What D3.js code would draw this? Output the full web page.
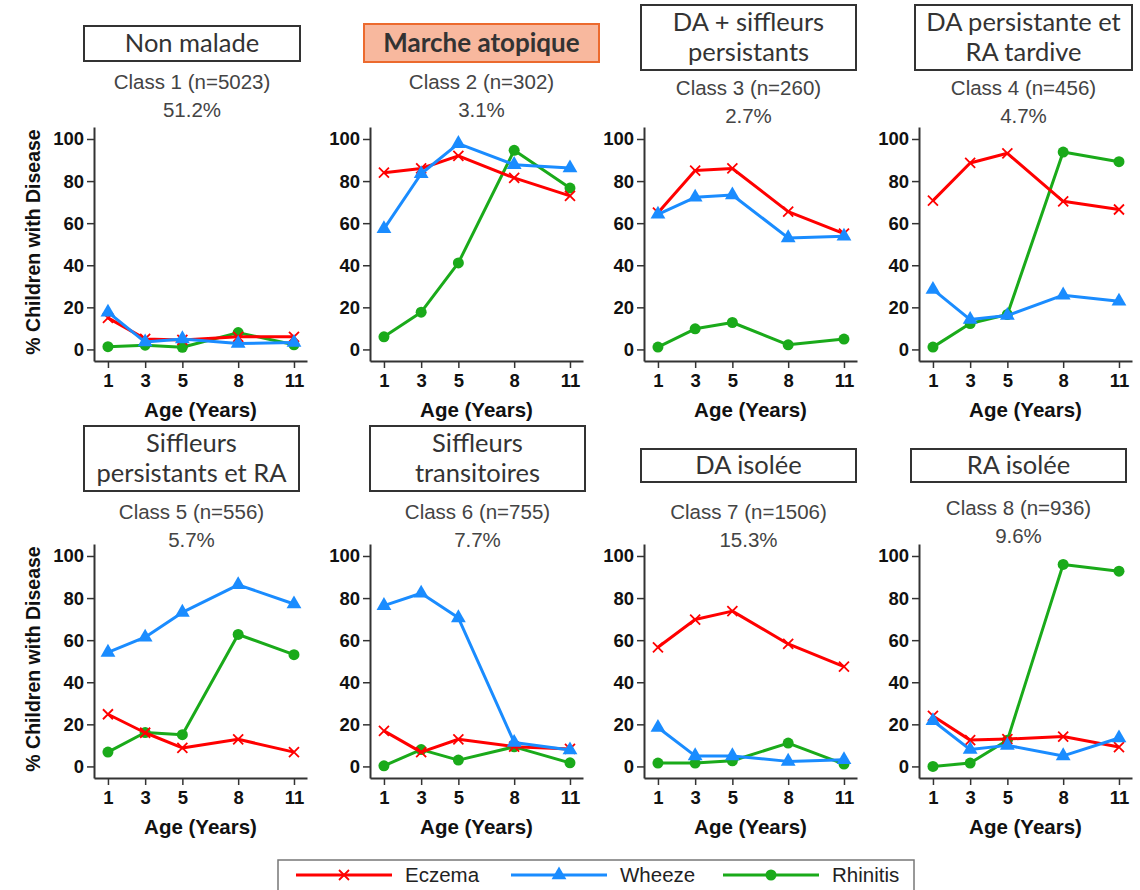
<!DOCTYPE html>
<html>
<head>
<meta charset="utf-8">
<script src="https://cdn.jsdelivr.net/npm/d3@7"></script>
<style>
  body { margin: 0; background: #fff; }
</style>
</head>
<body>
<div id="chart"></div>
<script>
// data
const ages = [1, 3, 5, 8, 11]
const yTicks = [0, 20, 40, 60, 80, 100]
const seriesNames = ['Eczema', 'Wheeze', 'Rhinitis']

const classTitles = [
  ['Non malade'],
  ['Marche atopique'],
  ['DA + siffleurs', 'persistants'],
  ['DA persistante et', 'RA tardive'],
  ['Siffleurs', 'persistants et RA'],
  ['Siffleurs', 'transitoires'],
  ['DA isolée'],
  ['RA isolée']
]
const classLabels = [
  'Class 1 (n=5023)', 'Class 2 (n=302)', 'Class 3 (n=260)', 'Class 4 (n=456)',
  'Class 5 (n=556)', 'Class 6 (n=755)', 'Class 7 (n=1506)', 'Class 8 (n=936)'
]
const classShares = ['51.2%', '3.1%', '2.7%', '4.7%', '5.7%', '7.7%', '15.3%', '9.6%']

// % children with disease, per class, at ages 1, 3, 5, 8, 11
const eczema = [
  [15, 5, 4.5, 6, 6],
  [84, 86, 92, 81.5, 73],
  [65, 85, 86, 65.5, 55],
  [70.7, 88.6, 93.2, 70.4, 66.5],
  [24.8, 16, 8.8, 12.9, 6.8],
  [16.9, 6.8, 12.9, 9.4, 8.3],
  [56.6, 69.8, 73.8, 58.2, 47.4],
  [24, 12.5, 13, 14.2, 9.2]
]
const wheeze = [
  [17.7, 3.5, 5, 2.8, 3.3],
  [57.3, 83.5, 97.8, 87.8, 86.2],
  [64.2, 72.3, 73.4, 53, 53.8],
  [28.5, 14.2, 16.1, 25.8, 22.9],
  [54.2, 61.4, 73.2, 86.3, 77.2],
  [76.4, 82.3, 70.6, 11.4, 7.8],
  [18.5, 5, 5, 2.4, 3.2],
  [21.7, 8, 10, 5, 13.5]
]
const rhinitis = [
  [1.3, 2, 1, 8, 2.2],
  [6, 17.7, 41.1, 94.6, 76.7],
  [1.1, 9.8, 12.8, 2.2, 4.9],
  [1.1, 12.3, 16.6, 93.8, 89.2],
  [6.8, 16.1, 15.1, 62.7, 53.1],
  [0.3, 8, 3, 9.3, 1.7],
  [1.6, 1.6, 2.7, 11.1, 1.1],
  [0, 1.6, 12.4, 96, 92.8]
]
const seriesValues = [eczema, wheeze, rhinitis]

// layout
const width = 1140, height = 890
const colX = [94, 370, 644, 919]
const rowY = [127, 544]
const plotW = 213, plotH = 234
const titleBoxes = [
  { x: 84, y: 26, w: 216, h: 35 },
  { x: 364, y: 24, w: 235, h: 38, highlight: true },
  { x: 641, y: 5, w: 215, h: 65 },
  { x: 915, y: 5, w: 217, h: 65 },
  { x: 84, y: 426, w: 215, h: 65 },
  { x: 370, y: 426, w: 215, h: 65 },
  { x: 641, y: 449, w: 215, h: 33 },
  { x: 911, y: 449, w: 215, h: 33 }
]
const subtitleY = [82, 82, 88, 88, 512, 512, 512, 508]

const styles = [
  { color: '#ff0000', marker: 'x' },
  { color: '#1a8cff', marker: 'triangle' },
  { color: '#1aaa1a', marker: 'circle' }
]
const drawOrder = [2, 0, 1]

const sansFont = '"Liberation Sans", Arial, sans-serif'
const titleFont = 'Lato, "Open Sans", sans-serif'

const svg = d3.select('#chart').append('svg')
  .attr('width', width).attr('height', height)

const x = d3.scaleLinear().domain([0.25, 11.7]).range([0, plotW])
const y = d3.scaleLinear().domain([-5.5, 105.7]).range([plotH, 0])

function drawMarker(sel, type, color) {
  if (type === 'x') {
    const s = 5
    sel.append('path')
      .attr('d', `M${-s},${-s}L${s},${s}M${-s},${s}L${s},${-s}`)
      .attr('stroke', color).attr('stroke-width', 1.8).attr('fill', 'none')
  } else if (type === 'triangle') {
    sel.append('path')
      .attr('d', d3.symbol(d3.symbolTriangle, 95)())
      .attr('fill', color)
  } else {
    sel.append('circle').attr('r', 5.5).attr('fill', color)
  }
}

const line = d3.line()
  .x(d => x(d.age))
  .y(d => y(d.val))

classTitles.forEach((title, i) => {
  const col = i % 4, row = Math.floor(i / 4)
  const box = titleBoxes[i]

  // title box
  svg.append('rect')
    .attr('x', box.x).attr('y', box.y)
    .attr('width', box.w).attr('height', box.h)
    .attr('fill', box.highlight ? '#f8b89e' : '#fff')
    .attr('stroke', box.highlight ? '#ec6a2e' : '#333')
    .attr('stroke-width', 2)

  const cx = box.x + box.w / 2
  const lineGap = 30
  title.forEach((t, j) => {
    svg.append('text')
      .attr('x', cx)
      .attr('y', box.y + box.h / 2 + (j - (title.length - 1) / 2) * lineGap)
      .attr('dy', '0.35em')
      .attr('text-anchor', 'middle')
      .attr('font-family', titleFont)
      .attr('font-size', box.highlight ? 26 : 25.5)
      .attr('font-weight', box.highlight ? 'bold' : 'normal')
      .attr('fill', '#333')
      .text(t)
  })

  // class label + share
  svg.append('text')
    .attr('x', cx).attr('y', subtitleY[i]).attr('dy', '0.35em')
    .attr('text-anchor', 'middle')
    .attr('font-family', sansFont).attr('font-size', 20.5)
    .attr('fill', '#444')
    .text(classLabels[i])
  svg.append('text')
    .attr('x', cx).attr('y', subtitleY[i] + 28).attr('dy', '0.35em')
    .attr('text-anchor', 'middle')
    .attr('font-family', sansFont).attr('font-size', 20.5)
    .attr('fill', '#444')
    .text(classShares[i])

  // plot
  const g = svg.append('g')
    .attr('transform', `translate(${colX[col]}, ${rowY[row]})`)

  const yAxis = g.append('g')
    .call(d3.axisLeft(y).tickValues(yTicks).tickSize(7).tickPadding(3).tickSizeOuter(0))
  const xAxis = g.append('g')
    .attr('transform', `translate(0, ${plotH})`)
    .call(d3.axisBottom(x).tickValues(ages).tickSize(7).tickPadding(6).tickSizeOuter(0))

  ;[yAxis, xAxis].forEach(a => {
    a.select('.domain').attr('stroke', '#333').attr('stroke-width', 2)
    a.selectAll('.tick line').attr('stroke', '#333').attr('stroke-width', 1.5)
    a.selectAll('.tick text')
      .attr('font-family', sansFont).attr('font-size', 18.5)
      .attr('font-weight', 'bold').attr('fill', '#111')
  })

  g.append('text')
    .attr('x', plotW / 2).attr('y', plotH + 56)
    .attr('text-anchor', 'middle')
    .attr('font-family', sansFont).attr('font-size', 20.5).attr('font-weight', 'bold')
    .attr('fill', '#111')
    .text('Age (Years)')

  if (col === 0) {
    g.append('text')
      .attr('transform', `translate(${33 - colX[0]}, ${plotH / 2 - 2}) rotate(-90)`)
      .attr('dy', '0.35em')
      .attr('text-anchor', 'middle')
      .attr('font-family', sansFont).attr('font-size', 19.5).attr('font-weight', 'bold')
      .attr('fill', '#111')
      .text('% Children with Disease')
  }

  drawOrder.forEach(s => {
    const pts = ages.map((age, k) => ({ age, val: seriesValues[s][i][k] }))
    g.append('path')
      .datum(pts)
      .attr('d', line)
      .attr('fill', 'none')
      .attr('stroke', styles[s].color)
      .attr('stroke-width', 3)
      .attr('stroke-linejoin', 'round')
    pts.forEach(p => {
      const m = g.append('g').attr('transform', `translate(${x(p.age)}, ${y(p.val)})`)
      drawMarker(m, styles[s].marker, styles[s].color)
    })
  })
})

// legend
svg.append('rect')
  .attr('x', 278).attr('y', 860).attr('width', 636).attr('height', 40)
  .attr('fill', 'none').attr('stroke', '#777').attr('stroke-width', 1.5)
const legendX = [296, 511, 723]
seriesNames.forEach((name, s) => {
  const lg = svg.append('g').attr('transform', `translate(${legendX[s]}, 875)`)
  lg.append('line').attr('x1', 0).attr('x2', 96).attr('y1', 0).attr('y2', 0)
    .attr('stroke', styles[s].color).attr('stroke-width', 3)
  const m = lg.append('g').attr('transform', 'translate(48, 0)')
  drawMarker(m, styles[s].marker, styles[s].color)
  lg.append('text')
    .attr('x', 109).attr('y', 0).attr('dy', '0.35em')
    .attr('font-family', sansFont).attr('font-size', 20.5)
    .attr('fill', '#222')
    .text(name)
})
</script>
</body>
</html>
